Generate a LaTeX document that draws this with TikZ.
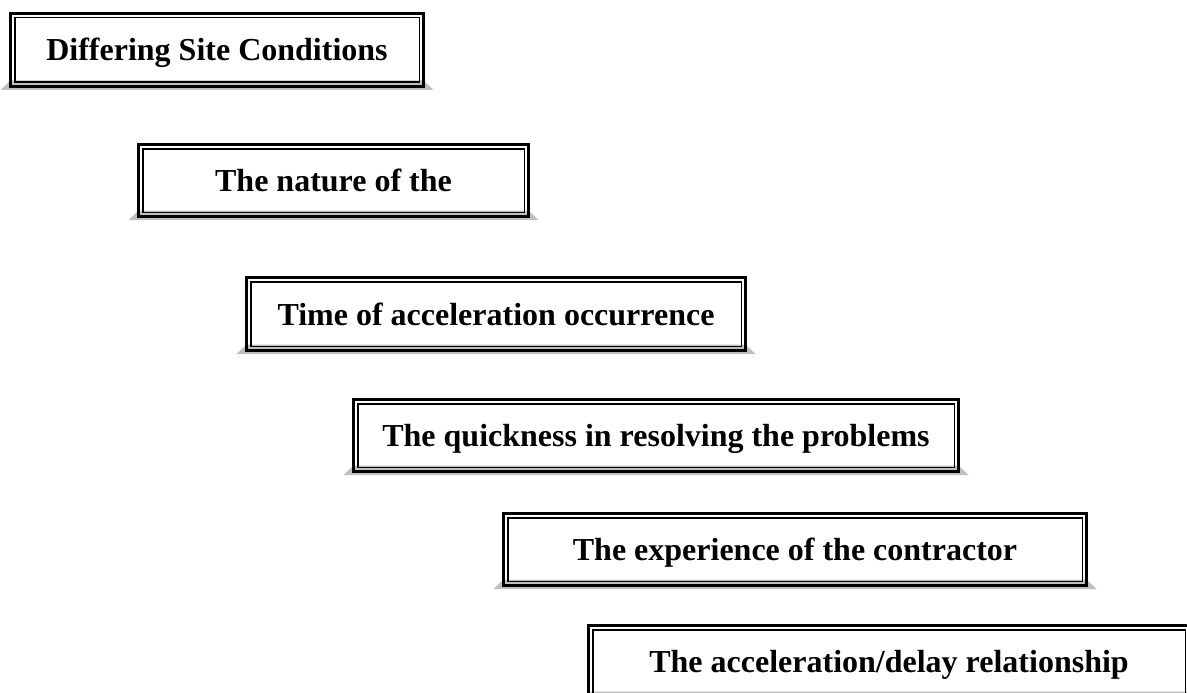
\documentclass[tikz,border=0pt]{standalone}
\usepackage{fontspec}
\setmainfont{Liberation Serif}
\usetikzlibrary{backgrounds}

% A framed factor box: thick outer rule, thin inner rule
\tikzset{
  factor/.style={draw, line width=3pt, rectangle, inner sep=0pt, outer sep=0pt,
    text height=22pt, text depth=0pt, align=center,
    font=\fontsize{32}{38}\selectfont\bfseries,
    minimum width=#1},
  innerrule/.style={line width=1.5pt},
  shade/.style={fill=black!25, draw=none}
}

% \factorbox{name}{left}{right}{top}{bottom}{text}
\newcommand{\factorbox}[6]{%
  \node[factor={#3-#2-3}, minimum height={#5-#4-3}] (#1) at ({(#2+#3)/2},{(#4+#5)/2}) {#6};
  \draw[innerrule] ([shift={(4.25,4.25)}]#1.north west) rectangle ([shift={(-4.25,-4.25)}]#1.south east);
  \begin{scope}[on background layer]
    \path[shade] ([shift={(-10,3.5)}]#1.south west) -- ([shift={(10,3.5)}]#1.south east)
      -- ([shift={(0,-6)}]#1.south east) -- ([shift={(0,-6)}]#1.south west) -- cycle;
  \end{scope}
}

\begin{document}
\begin{tikzpicture}[x=1pt,y=-1pt]
  \useasboundingbox (0,0) rectangle (1187,693);
  \clip (0,0) rectangle (1187,693);
  \begin{scope}[on background layer]
    \fill[white] (0,0) rectangle (1187,693);
  \end{scope}

  \factorbox{dsc}{9}{425}{12}{88}{Differing Site Conditions}
  \factorbox{nature}{137}{530}{143}{218}{The nature of the}
  \factorbox{timing}{245}{747}{276}{352}{Time of acceleration occurrence}
  \factorbox{quick}{352}{960}{398}{473}{The quickness in resolving the problems}
  \factorbox{exper}{502}{1088}{512}{587}{The experience of the contractor}
  \factorbox{relation}{587}{1191}{624}{699}{The acceleration/delay relationship}
\end{tikzpicture}
\end{document}
